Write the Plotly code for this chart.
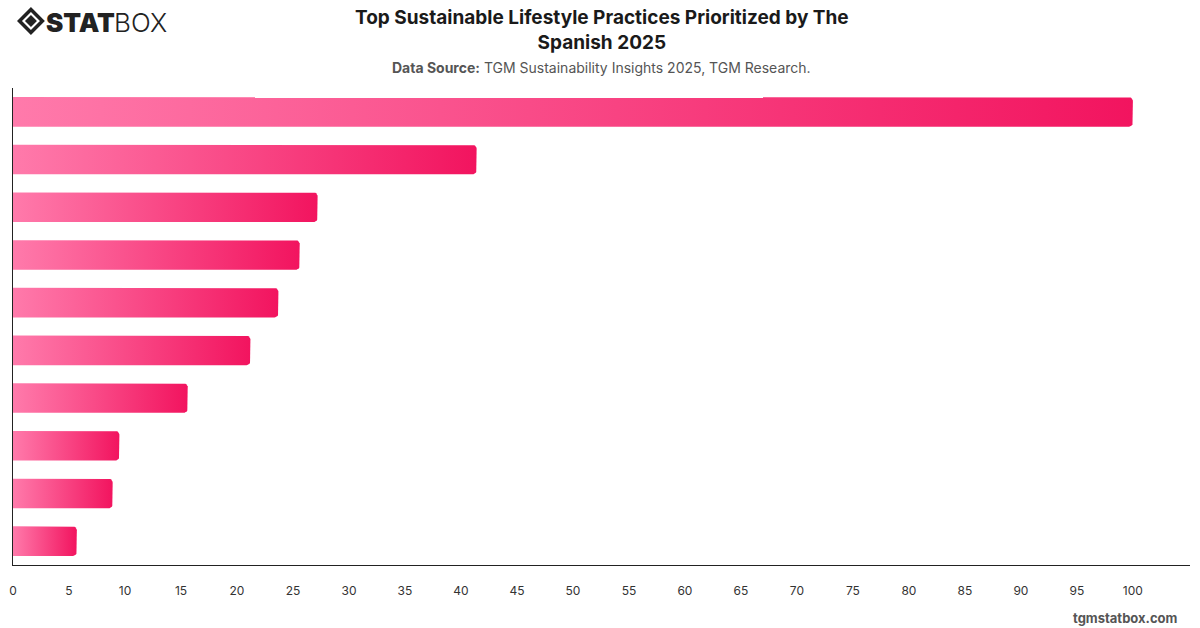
import numpy as np
import plotly.graph_objects as go

# ---- data ----
categories = ["Practice 1", "Practice 2", "Practice 3", "Practice 4", "Practice 5",
              "Practice 6", "Practice 7", "Practice 8", "Practice 9", "Practice 10"]
values = [100, 41.4, 27.2, 25.6, 23.7, 21.2, 15.6, 9.5, 8.9, 5.7]
tick_vals = list(range(0, 101, 5))

# ---- layout geometry ----
W, H = 1200, 628
ML, MR, MT, MB = 9, 10, 88, 63
XMAX = 105.1
px_per_x = (W - ML - MR) / XMAX
px_per_y = (H - MT - MB) / len(categories)
bar_h = 0.62
r_px = 4
rx = r_px / px_per_x
ry = r_px / px_per_y

c_start, c_end = "#ff7aab", "#f2145f"

fig = go.Figure()
for i, (cat, v) in enumerate(zip(categories, values)):
    y0, y1 = i - bar_h / 2, i + bar_h / 2
    xs = [0, v - rx]
    ys = [y0, y0]
    t = np.linspace(-np.pi / 2, 0, 8)
    xs += list(v - rx + rx * np.cos(t)); ys += list(y0 + ry + ry * np.sin(t))
    t = np.linspace(0, np.pi / 2, 8)
    xs += list(v - rx + rx * np.cos(t)); ys += list(y1 - ry + ry * np.sin(t))
    xs += [v - rx, 0, 0]; ys += [y1, y1, y0]
    fig.add_trace(go.Scatter(
        x=xs, y=ys, mode="lines", fill="toself",
        line=dict(width=0, color=c_end),
        fillgradient=dict(type="horizontal",
                          colorscale=[[0, c_start], [1, c_end]]),
        name=cat, hoverinfo="skip", showlegend=False))

fig.update_layout(
    width=W, height=H,
    margin=dict(l=ML, r=MR, t=MT, b=MB),
    paper_bgcolor="white", plot_bgcolor="white",
    font=dict(family="Inter, Roboto, sans-serif", color="#333"),
    xaxis=dict(range=[0, XMAX], tickvals=tick_vals, showgrid=False, zeroline=False,
               showline=True, linecolor="#222", linewidth=1.3,
               ticks="", tickfont=dict(size=12, color="#333"), ticklabelstandoff=14,
               fixedrange=True),
    yaxis=dict(range=[len(categories) - 0.5, -0.5], showgrid=False, zeroline=False,
               showline=True, linecolor="#222", linewidth=1.3,
               showticklabels=False, ticks="", fixedrange=True),
)

fig.add_annotation(
    text="<b>Top Sustainable Lifestyle Practices Prioritized by The<br>Spanish 2025</b>",
    xref="paper", yref="paper", x=0.5, y=1, xanchor="center", yanchor="top",
    yshift=MT - 4, showarrow=False, align="center",
    font=dict(size=19, color="#1a1a1a"))

fig.add_annotation(
    text="<b>Data Source:</b> TGM Sustainability Insights 2025, TGM Research.",
    xref="paper", yref="paper", x=0.5, y=1, xanchor="center", yanchor="bottom",
    yshift=10, showarrow=False, font=dict(size=14, color="#555"))

fig.add_annotation(
    text="<b>tgmstatbox.com</b>", xref="paper", yref="paper", x=1, y=0,
    xanchor="right", yanchor="top", xshift=-10, yshift=-43, showarrow=False,
    font=dict(size=13, color="#555"))

# logo
fig.add_annotation(
    text="STAT", xref="paper", yref="paper", x=0, y=1,
    xanchor="left", yanchor="top", xshift=31, yshift=MT - 5, showarrow=False,
    font=dict(size=26, color="#222", family="Inter", weight=900))
fig.add_annotation(
    text="BOX", xref="paper", yref="paper", x=0, y=1,
    xanchor="left", yanchor="top", xshift=99, yshift=MT - 5, showarrow=False,
    font=dict(size=26, color="#222", family="Inter", weight=300))

def px(xp, yp):
    return (xp - ML) / (W - ML - MR), 1 - (yp - MT) / (H - MT - MB)
cx, cy = 27, 21
outer = [(cx - 11.5, cy), (cx, cy - 11.5), (cx + 11.5, cy), (cx, cy + 11.5)]
inner = [(cx - 6, cy), (cx, cy - 6), (cx + 6, cy), (cx, cy + 6)]
def path(pts):
    s = ""
    for k, (a, b) in enumerate(pts):
        X, Y = px(a, b)
        s += ("M" if k == 0 else "L") + f"{X},{Y} "
    return s + "Z"
fig.add_shape(type="path", path=path(outer), xref="paper", yref="paper",
              line=dict(color="#222", width=3.5), fillcolor="rgba(0,0,0,0)")
fig.add_shape(type="path", path=path(inner), xref="paper", yref="paper",
              line=dict(width=0), fillcolor="#222")

fig.write_html("out.html")
